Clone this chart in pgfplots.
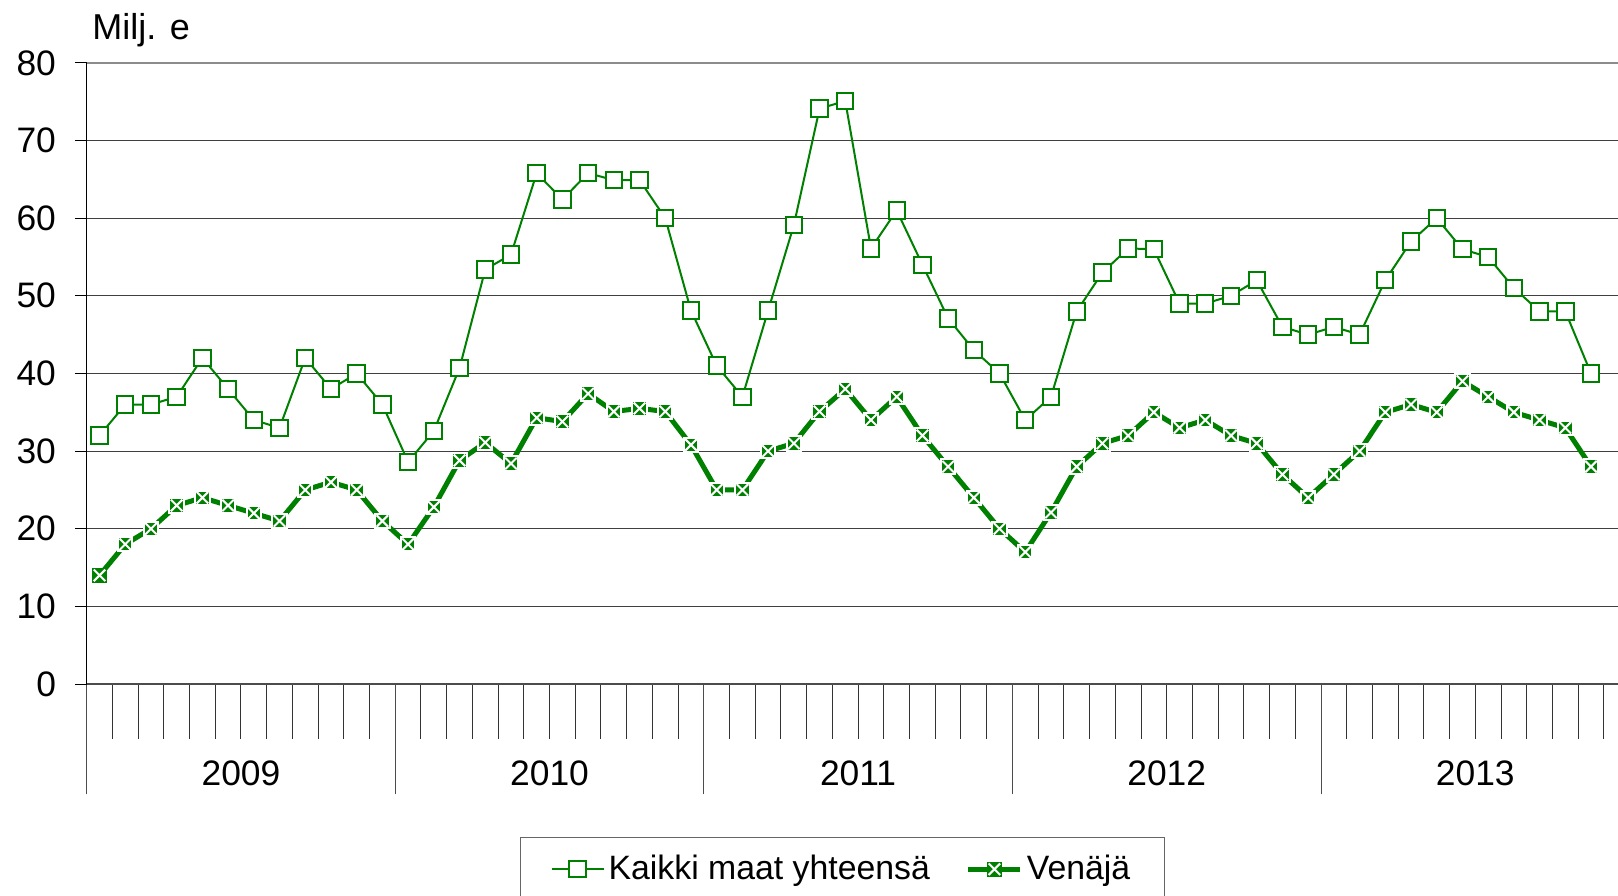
\documentclass[border=0pt]{standalone}
\usepackage{pgfplots}
\pgfplotsset{compat=1.18}
\usepackage{pgfplotstable}
\usepackage{fontspec}
\setmainfont{Liberation Sans}
\definecolor{lgreen}{RGB}{0,128,0}
\newcommand{\chartfont}{\fontsize{17.7}{21}\selectfont}
\newcommand{\legfont}{\fontsize{16.9}{20}\selectfont}
\pgfdeclareplotmark{sqx}{%
  \pgfpathrectangle{\pgfqpoint{-\pgfplotmarksize}{-\pgfplotmarksize}}{\pgfqpoint{2\pgfplotmarksize}{2\pgfplotmarksize}}%
  \pgfusepathqfillstroke
  \pgfsetstrokecolor{white}%
  \pgfsetlinewidth{1pt}%
  \pgfpathmoveto{\pgfqpoint{-0.8\pgfplotmarksize}{-0.8\pgfplotmarksize}}%
  \pgfpathlineto{\pgfqpoint{0.8\pgfplotmarksize}{0.8\pgfplotmarksize}}%
  \pgfpathmoveto{\pgfqpoint{-0.8\pgfplotmarksize}{0.8\pgfplotmarksize}}%
  \pgfpathlineto{\pgfqpoint{0.8\pgfplotmarksize}{-0.8\pgfplotmarksize}}%
  \pgfusepathqstroke
}
\pgfplotstableread{
x k v
0.5 32 14
1.5 36 18
2.5 36 20
3.5 37 23
4.5 42 24
5.5 38 23
6.5 34 22
7.5 33 21
8.5 42 25
9.5 38 26
10.5 40 25
11.5 36 21
12.5 28.6 18
13.5 32.6 22.8
14.5 40.7 28.8
15.5 53.4 31.1
16.5 55.3 28.4
17.5 65.8 34.3
18.5 62.4 33.8
19.5 65.8 37.4
20.5 64.9 35.1
21.5 64.9 35.5
22.5 60 35.1
23.5 48.1 30.8
24.5 41 25
25.5 37 25
26.5 48.1 30
27.5 59.1 31
28.5 74.1 35.1
29.5 75.1 38
30.5 56.1 34
31.5 61 37
32.5 54 32
33.5 47.1 28
34.5 43 24
35.5 40 20
36.5 34 17
37.5 37 22.1
38.5 48 28
39.5 53 31
40.5 56.1 32
41.5 56 35
42.5 49 33
43.5 49 34
44.5 50 32
45.5 52 31
46.5 46 27
47.5 45 24
48.5 46 27
49.5 45 30
50.5 52 35
51.5 57 36
52.5 60 35
53.5 56 39
54.5 55 37
55.5 51 35
56.5 48 34
57.5 48 33
58.5 40 28
}\datatable
\begin{document}
\begin{tikzpicture}
\useasboundingbox (-43.34pt,-105.77pt) rectangle (765.67pt,342.03pt);
\begin{axis}[
  at={(0,0)}, anchor=south west,
  scale only axis, width=765.67pt, height=310.6pt,
  xmin=0, xmax=59.55, ymin=0, ymax=80,
  axis x line*=bottom, axis y line*=left,
  x axis line style={draw=black!70, line width=0.6pt},
  y axis line style={draw=black, line width=0.7pt},
  tick align=outside,
  font=\chartfont,
  tick label style={font=\chartfont},
  /pgf/number format/assume math mode=true,
  ytick={0,10,...,80},
  ytick style={draw=black, line width=0.5pt, /pgfplots/major tick length=5.7pt},
  yticklabel style={inner sep=0pt, xshift=-10.9pt},
  ymajorgrids,
  major grid style={draw=black!75, line width=0.5pt},
  xtick={0,12,24,36,48},
  xticklabels={2009,2010,2011,2012,2013},
  xticklabel style={anchor=center, inner sep=0pt, xshift=77.14pt, yshift=-40.3pt},
  xtick style={draw=black!70, line width=0.5pt, /pgfplots/major tick length=55.2pt},
  minor xtick={1,...,59},
  minor tick length=27.3pt,
  minor x tick style={draw=black!80, line width=0.5pt},
  legend columns=2,
  legend cell align=left,
  legend style={at={(axis description cs:0.2830,-0.246)}, anchor=north west,
    draw=black!60, line width=0.6pt, font=\legfont,
    inner xsep=15pt, inner ysep=7pt,
    /tikz/every even column/.append style={column sep=16pt}},
  legend image code/.code={\draw[mark repeat=2,mark phase=2,#1] plot coordinates {(0pt,0pt) (13pt,0pt) (26pt,0pt)};},
]
\addplot[lgreen, line width=1pt, mark=square*, mark size=4.1pt,
  mark options={fill=white, draw=lgreen, line width=1pt, solid}] table[x=x, y=k] {\datatable};
\addlegendentry{Kaikki maat yhteensä}
\addplot[lgreen, line width=2.5pt, mark=sqx, mark size=3.6pt,
  mark options={fill=lgreen, draw=lgreen, line width=0.5pt, solid}] table[x=x, y=v] {\datatable};
\addlegendentry{Venäjä}
\draw[draw=black!45, line width=1pt] (rel axis cs:0,1) -- (rel axis cs:1,1);
\end{axis}
\node[anchor=west, inner sep=0pt, font=\fontsize{18}{21}\selectfont] at (2.7pt,326.7pt) {Milj. e};
\end{tikzpicture}
\end{document}
